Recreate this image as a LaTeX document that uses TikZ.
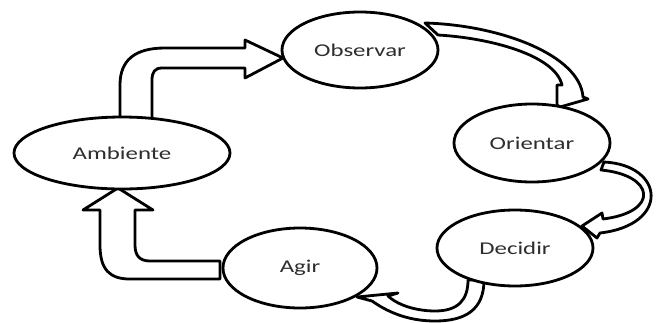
\documentclass[tikz,border=0pt]{standalone}
\usepackage{fontspec}
\setmainfont{Carlito}[FakeStretch=1.38]
\usetikzlibrary{shapes.geometric}
\definecolor{txt}{HTML}{2E2E2E}
\tikzset{
  stage/.style={ellipse, draw=black, fill=white, line width=2.8pt, inner sep=0pt,
    font=\fontsize{18}{21}\selectfont, text=txt},
  blockarrow/.style={draw=black, fill=white, line width=2.8pt, line join=round}
}
\begin{document}
\begin{tikzpicture}[x=1pt,y=-1pt]
\useasboundingbox (0,0) rectangle (657,322);
% block arrows
\path[blockarrow] (120,125) -- (120,85) .. controls (120,60) and (135,48) .. (165,48)
  -- (245,48) -- (245,40) -- (283,58) -- (245,78) -- (245,68) -- (162,68)
  .. controls (155,68) and (152,72) .. (152,80) -- (152,125) -- cycle;
\path[blockarrow] (220,261) -- (150,261) .. controls (140,261) and (135,256) .. (135,245)
  -- (135,210) -- (153,210) -- (118,188) -- (83,210) -- (100,210) -- (100,245)
  .. controls (100,270) and (110,279) .. (130,279) -- (220,279) -- cycle;
\path[blockarrow] (425,23) .. controls (500,25) and (580,55) .. (583,97) -- (588,99)
  -- (560,107) -- (557,105) -- (557,85) -- (562,85)
  .. controls (555,55) and (490,38) .. (438,35) -- cycle;
\path[blockarrow] (604,162) .. controls (665,165) and (670,225) .. (600,233) -- (597,238)
  -- (582,226) -- (602,213) -- (603,219)
  .. controls (660,212) and (655,175) .. (601,170) -- cycle;
\path[blockarrow] (484,280) .. controls (484,310) and (465,321) .. (435,321)
  .. controls (405,321) and (385,310) .. (372,301) -- (357,297) -- (398,293) -- (388,296)
  .. controls (400,307) and (420,311) .. (435,311)
  .. controls (458,311) and (468,300) .. (468,280) -- cycle;
% stages
\node[stage, minimum width=216pt, minimum height=72pt] (amb) at (122,153) {Ambiente};
\node[stage, minimum width=156pt, minimum height=76pt] (obs) at (360,50) {Observar};
\node[stage, minimum width=156pt, minimum height=78pt] (ori) at (532,143) {Orientar};
\node[stage, minimum width=156pt, minimum height=76pt] (dec) at (515,248) {Decidir};
\node[stage, minimum width=154pt, minimum height=80pt] (agi) at (300,268) {Agir};
\end{tikzpicture}
\end{document}
